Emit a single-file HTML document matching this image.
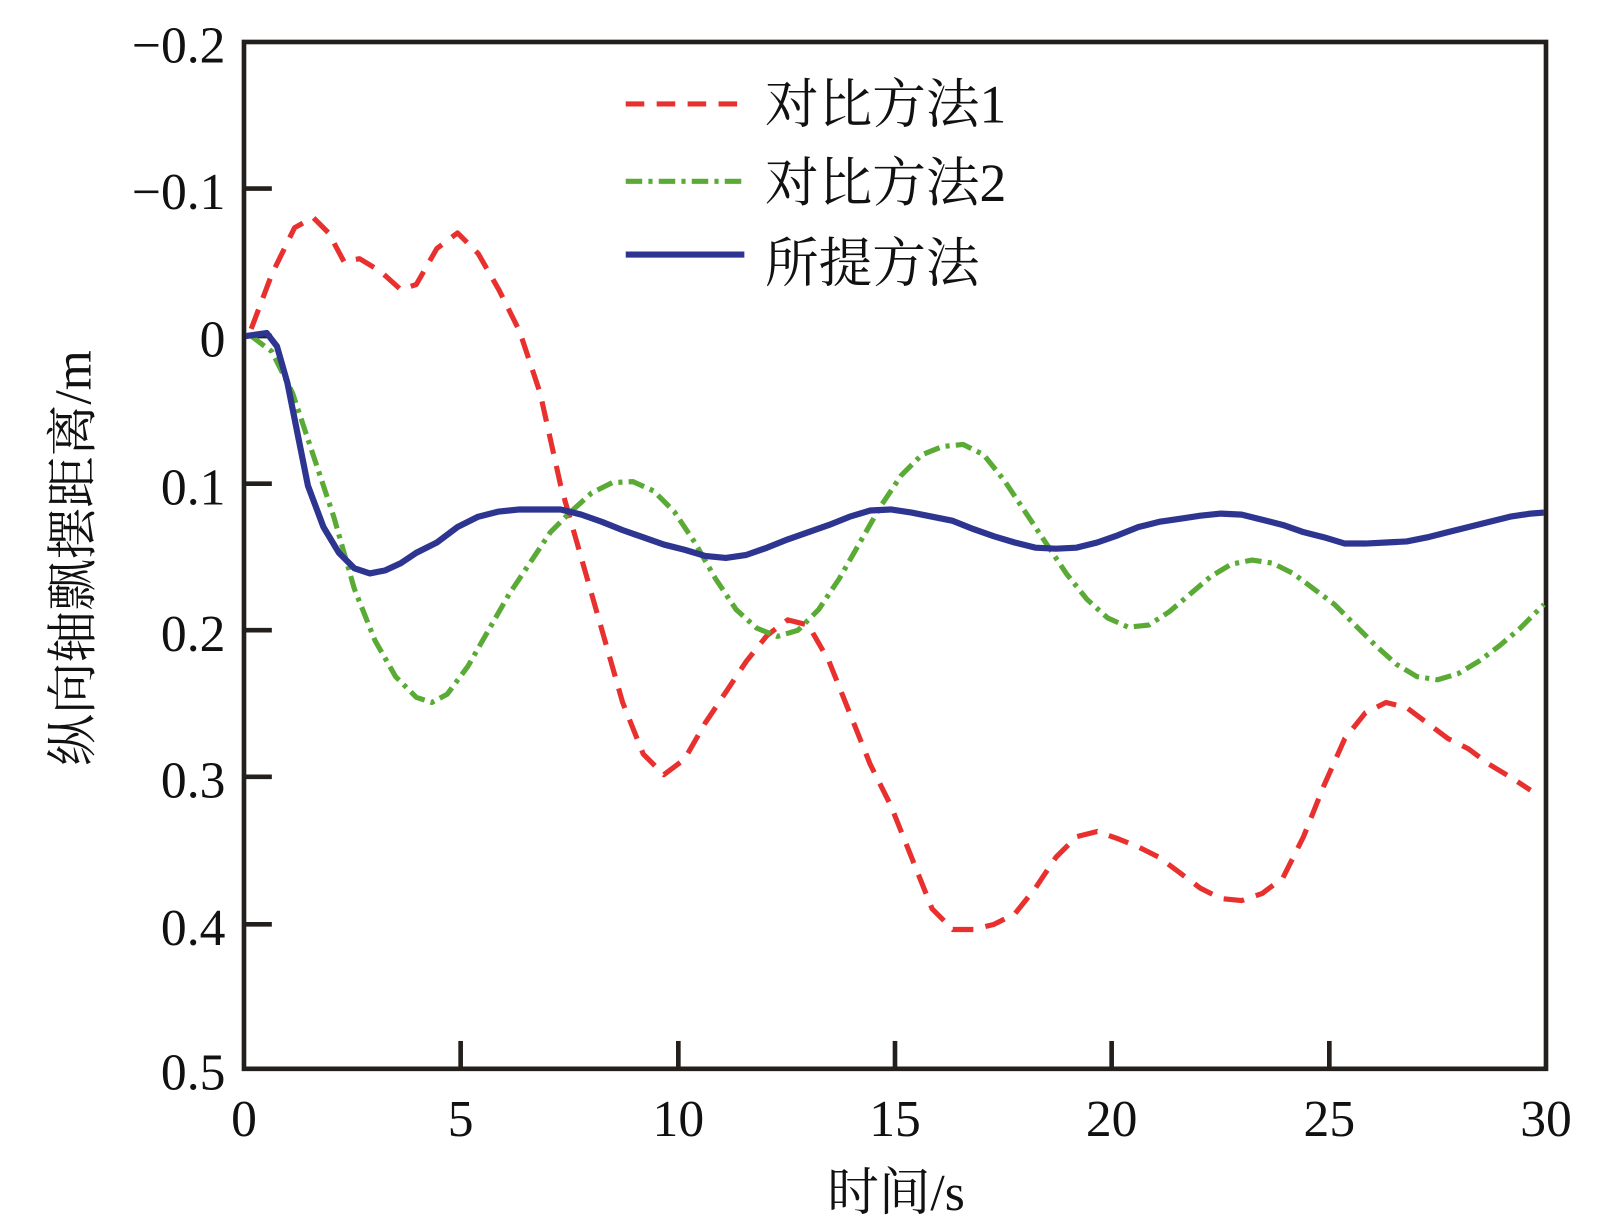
<!DOCTYPE html>
<html><head><meta charset="utf-8"><style>body{margin:0;background:#fff}svg{display:block}
.t{font-family:"Liberation Serif","Noto Serif CJK SC",serif;fill:#111}</style></head><body>
<svg width="1618" height="1228" viewBox="0 0 1618 1228" xmlns="http://www.w3.org/2000/svg">
<g transform="translate(3.6,0.7) scale(1.0317,1.032)" class="t">
<rect x="233" y="40" width="1262" height="995" fill="none" stroke="#231f1c" stroke-width="4.5"/>
<g stroke="#231f1c" stroke-width="4.5">
<line x1="233" y1="182" x2="260" y2="182"/><line x1="233" y1="325" x2="260" y2="325"/><line x1="233" y1="468" x2="260" y2="468"/><line x1="233" y1="610" x2="260" y2="610"/><line x1="233" y1="752" x2="260" y2="752"/><line x1="233" y1="895" x2="260" y2="895"/>
<line x1="443" y1="1035" x2="443" y2="1008"/><line x1="654" y1="1035" x2="654" y2="1008"/><line x1="864" y1="1035" x2="864" y2="1008"/><line x1="1074" y1="1035" x2="1074" y2="1008"/><line x1="1285" y1="1035" x2="1285" y2="1008"/>
</g>
<g style="font-size:50px" text-anchor="end">
<text x="215" y="60">−0.2</text><text x="215" y="202">−0.1</text><text x="215" y="345">0</text><text x="215" y="488">0.1</text><text x="215" y="630">0.2</text><text x="215" y="772">0.3</text><text x="215" y="915">0.4</text><text x="215" y="1055">0.5</text>
</g>
<g style="font-size:50px" text-anchor="middle">
<text x="233" y="1100">0</text><text x="443" y="1100">5</text><text x="654" y="1100">10</text><text x="864" y="1100">15</text><text x="1074" y="1100">20</text><text x="1285" y="1100">25</text><text x="1495" y="1100">30</text>
<text x="865" y="1172">时间/s</text>
<text transform="translate(84,540) rotate(-90)">纵向轴飘摆距离/m</text>
</g>
<g style="font-size:52px">
<text x="738" y="118">对比方法1</text><text x="738" y="194">对比方法2</text><text x="738" y="272">所提方法</text>
</g>
<line x1="603" y1="100" x2="718" y2="100" stroke="#e8312e" stroke-width="5" stroke-dasharray="18,12"/>
<line x1="603" y1="175" x2="718" y2="175" stroke="#5aaa36" stroke-width="5" stroke-dasharray="16,6,4,6"/>
<line x1="603" y1="246" x2="718" y2="246" stroke="#2e3590" stroke-width="6"/>
<polyline fill="none" stroke="#e8312e" stroke-width="5" stroke-dasharray="20,12" stroke-linejoin="round" points="240,318 260,265 282,220 300,210 315,225 330,253 345,250 365,262 385,280 400,275 420,240 440,225 460,245 480,280 500,320 520,380 540,470 560,540 580,610 600,680 620,730 640,750 660,735 680,700 700,670 720,640 740,615 760,600 780,605 800,640 820,690 840,740 860,780 880,830 900,880 920,900 940,900 960,895 980,885 1000,860 1020,830 1040,810 1060,805 1080,812 1100,820 1120,830 1140,845 1160,860 1180,870 1200,872 1220,865 1240,850 1260,810 1280,760 1300,715 1320,690 1340,680 1360,685 1380,700 1400,715 1420,725 1440,740 1460,752 1480,765"/>
<polyline fill="none" stroke="#5aaa36" stroke-width="5" stroke-dasharray="16,6,4,6" stroke-linejoin="round" points="240,325 260,340 280,380 300,440 320,500 340,570 360,620 380,655 400,675 415,680 430,672 450,645 470,610 490,575 510,545 530,515 550,495 570,477 590,467 610,466 630,475 650,495 670,525 690,560 710,590 730,608 750,616 770,610 790,590 810,560 830,525 850,490 870,460 890,440 910,432 930,430 950,440 970,465 990,495 1010,525 1030,555 1050,580 1070,598 1090,607 1110,605 1130,592 1150,575 1170,558 1190,546 1210,542 1230,545 1250,555 1270,570 1290,585 1310,605 1330,625 1350,643 1370,655 1390,658 1410,652 1430,640 1450,625 1470,608 1493,585"/>
<polyline fill="none" stroke="#2e3590" stroke-width="6" stroke-linejoin="round" points="235,325 255,322 265,335 275,370 285,420 295,470 310,510 325,535 340,550 355,555 370,552 385,545 400,535 420,525 440,510 460,500 480,495 500,493 520,493 540,493 560,498 580,505 600,513 620,520 640,527 660,532 680,538 700,540 720,537 740,530 760,522 780,515 800,508 820,500 840,494 860,493 880,496 900,500 920,504 940,512 960,519 980,525 1000,530 1020,531 1040,530 1060,525 1080,518 1100,510 1120,505 1140,502 1160,499 1180,497 1200,498 1220,503 1240,508 1260,515 1280,520 1300,526 1320,526 1340,525 1360,524 1380,520 1400,515 1420,510 1440,505 1460,500 1480,497 1493,496"/>
</g>
</svg>
</body></html>
